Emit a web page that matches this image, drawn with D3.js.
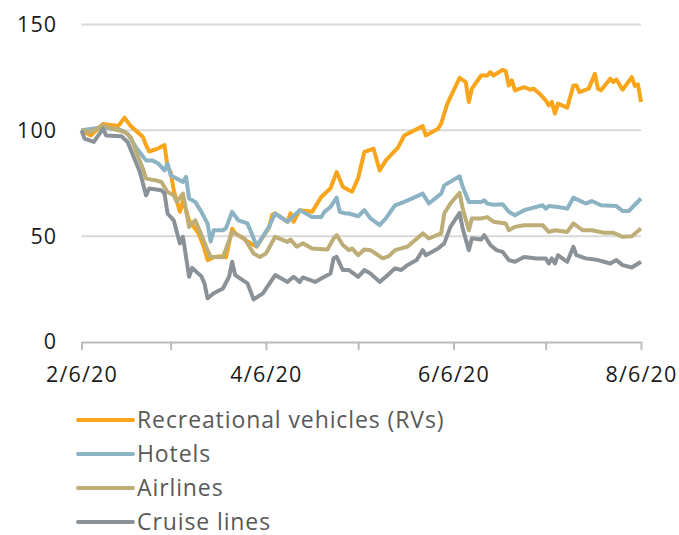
<!DOCTYPE html>
<html>
<head>
<meta charset="utf-8">
<script src="https://cdn.jsdelivr.net/npm/d3@7"></script>
<style>
  body { margin: 0; background: #fff; }
  svg { display: block; font-family: "Open Sans", sans-serif; }
</style>
</head>
<body>
<svg width="679" height="535"></svg>
<script>
// indexed stock prices, 2/6/20 = 100
// days are counted from the start date
var start = new Date(2020, 1, 6);
var seriesNames = ["Recreational vehicles (RVs)", "Hotels", "Airlines", "Cruise lines"];
var seriesColors = ["#f9a51b", "#8bb3c4", "#bdad76", "#8a9298"];
var yTicks = [0, 50, 100, 150];

var rvDays = [0,3,7,12,14,16,20,21,22,25,27,28,29,30,32,33,35,38,39,40,41,43,45,47,49,50,54,57,61,62,63,67,68,69,71,75,78,81,83,85,87,88,90,92,95,97,99,103,105,111,112,116,117,119,120,123,125,126,127,130,132,133,134,137,138,139,140,141,144,146,147,149,151,152,153,154,155,158,160,161,162,165,167,168,169,172,173,174,176,179,180,181,182];
var rvValues = [100,97.6,103,102,106,102,96.8,93,90,91.5,93,82.7,80.3,71.7,61.5,67,57.5,51.4,48,44,38.7,40,40.5,40,53.5,51.4,47.5,45,54,60,60.8,56.8,60.8,56.8,62.3,61.5,68.5,72.6,80.3,73.3,71.7,71,77.4,89.8,91.3,81,85.8,92,97.6,102,97.6,100.8,103.2,112.6,115.7,124.8,122.8,113.4,119.7,125.9,125.9,127.5,125.9,128.6,128,121.2,123.6,118.9,120.4,119.2,119.7,117.3,114.2,111.8,113.4,107.9,112.6,110.7,121.2,121.2,118,119.7,126.7,119.7,118.9,124.4,122.8,124,119.2,125.1,121,121.7,113.4];

var hotelDays = [0,7,13,15,18,21,23,25,27,28,29,33,34,35,37,39,41,42,43,46,47,49,51,54,57,61,63,67,71,75,78,79,81,83,84,86,87,90,92,94,97,99,102,105,111,113,117,118,123,124,126,130,131,132,134,137,139,141,144,150,151,152,155,158,160,164,166,169,174,176,178,182];
var hotelValues = [100,101.5,100,98.4,91.4,85.8,85.8,84.3,81.1,84.3,78.8,75.6,78,67.8,66.2,61.5,56,47.5,52.8,52.8,53.8,61.5,57.5,56,45.4,54.4,60.7,56.8,62.3,59,59,61.5,63.8,68.2,61.5,60.7,60.7,59.4,62.3,58.4,55.2,58.4,64.6,66.2,70.1,65.4,70.1,74,78.3,73.3,66.2,66.2,67,65.4,64.8,65.1,61.5,59.9,62.3,64.6,63,64.2,63.8,63,68.2,65.4,66.6,64.6,64.2,61.9,61.9,67.8];

var airlineDays = [0,3,7,10,14,16,18,20,21,24,26,28,30,31,33,35,37,39,41,42,43,46,49,53,56,58,60,63,67,68,70,72,75,80,82,83,85,87,88,90,92,94,98,100,102,104,106,111,113,117,118,120,123,124,126,127,130,132,134,138,139,141,144,150,152,154,158,160,163,166,170,173,176,179,182];
var airlineValues = [100,99.2,102.4,100.8,99.2,96.8,89,81.9,77.2,76.4,75.6,70.9,69.3,66.2,70.1,54.4,57.5,50.5,43.4,40.2,40.2,40,52,48.9,41.8,40.2,41.8,49.7,47.3,48.4,45,46.6,44.2,43.7,48.9,50.5,45.8,43.4,44.2,41,43.7,43.4,39.5,40.6,43.4,44.2,45,51.3,48.9,51.3,60.7,65.4,70.5,63,52.8,58.4,58.4,59,56.8,56,52.8,54.4,55.2,55.2,52,52.8,52,56,52.8,52.8,51.6,51.6,49.7,50,53.6];

var cruiseDays = [0,1,4,7,8,13,15,17,19,21,22,26,27,28,30,32,33,35,36,39,40,41,43,46,48,49,50,54,56,59,63,67,69,71,72,76,78,81,82,83,85,87,90,92,94,97,99,102,104,106,109,111,112,116,118,120,123,124,126,127,130,131,133,135,137,139,141,144,148,151,152,153,154,155,158,160,161,164,168,172,174,176,179,182];
var cruiseValues = [100,96.1,94.5,100.8,97.6,97.2,94.5,87.4,80.3,69.3,72.5,71.7,70.1,60.7,57.5,46.6,49.7,30.8,35,31,27.7,20.6,23,25.3,30.8,37.9,31.6,27.7,20.1,23,31.6,28.4,30.8,28.4,30.5,28.4,30,32.4,39.5,40.2,34,34,30.8,34,32.4,28.4,30.8,34.8,34,36.3,38.7,43.4,41,44.2,46.6,54.4,61,53.6,43.4,49,48.4,50.5,45.8,43.4,42.6,38.7,37.9,40.2,39.5,39.5,37.1,39.5,37.1,41,37.9,45,41,39.5,38.7,37.1,38.7,36.3,35.2,37.9];

var allDays = [rvDays, hotelDays, airlineDays, cruiseDays];
var allValues = [rvValues, hotelValues, airlineValues, cruiseValues];

var plotLeft = 81.5, plotRight = 641, plotTop = 24.5, plotBottom = 342;

var tickDates = d3.range(7).map(function(i){ return d3.timeMonth.offset(start, i); });
var xs = d3.scaleTime().domain([start, tickDates[6]]).range([plotLeft, plotRight]);
var ys = d3.scaleLinear().domain([0, 150]).range([plotBottom, plotTop]);

var svg = d3.select("svg");

// gridlines
svg.append("g").selectAll("line").data(yTicks.slice(1)).enter().append("line")
    .attr("x1", plotLeft).attr("x2", plotRight)
    .attr("y1", function(d){ return ys(d); })
    .attr("y2", function(d){ return ys(d); })
    .attr("stroke", "#d9d9d9")
    .attr("stroke-width", 2);

// y axis, labels only
var yAxis = svg.append("g")
    .attr("transform", "translate(" + plotLeft + ",0)")
    .call(d3.axisLeft(ys).tickValues(yTicks).tickSize(0).tickPadding(24.5));
yAxis.select(".domain").remove();
yAxis.selectAll("text")
    .attr("font-size", 21.5).attr("letter-spacing", 1)
    .attr("font-family", "Open Sans").attr("fill", "#1a1a1a");

// x axis
var fmt = d3.timeFormat("%-m/%-d/%y");
var xAxis = svg.append("g")
    .attr("transform", "translate(0," + plotBottom + ")")
    .call(d3.axisBottom(xs).tickValues(tickDates).tickSize(8).tickSizeOuter(0).tickPadding(17)
        .tickFormat(function(d, i){ return i % 2 == 0 ? fmt(d) : ""; }));
xAxis.select(".domain").attr("stroke", "#bcbcbc").attr("stroke-width", 2);
xAxis.selectAll(".tick line").attr("stroke", "#bcbcbc").attr("stroke-width", 2);
xAxis.selectAll("text")
    .attr("font-size", 21.5).attr("letter-spacing", 1.2)
    .attr("font-family", "Open Sans").attr("fill", "#1a1a1a");

// lines
var line = d3.line()
    .x(function(d){ return xs(d3.timeDay.offset(start, d[0])); })
    .y(function(d){ return ys(d[1]); });

seriesNames.forEach(function(name, k){
    var pts = d3.zip(allDays[k], allValues[k]);
    svg.append("path")
        .datum(pts)
        .attr("d", line)
        .attr("fill", "none")
        .attr("stroke", seriesColors[k])
        .attr("stroke-width", 4)
        .attr("stroke-linejoin", "round");
});

// legend
var legend = svg.append("g").selectAll("g").data(seriesNames).enter().append("g")
    .attr("transform", function(d, i){ return "translate(0," + (420 + i * 34) + ")"; });
legend.append("line")
    .attr("x1", 78).attr("x2", 133)
    .attr("stroke", function(d, i){ return seriesColors[i]; })
    .attr("stroke-width", 4)
    .attr("stroke-linecap", "round");
legend.append("text")
    .attr("x", 137).attr("y", 8)
    .attr("font-size", 23).attr("letter-spacing", 0.9)
    .attr("fill", "#595959")
    .text(function(d){ return d; });
</script>
</body>
</html>
